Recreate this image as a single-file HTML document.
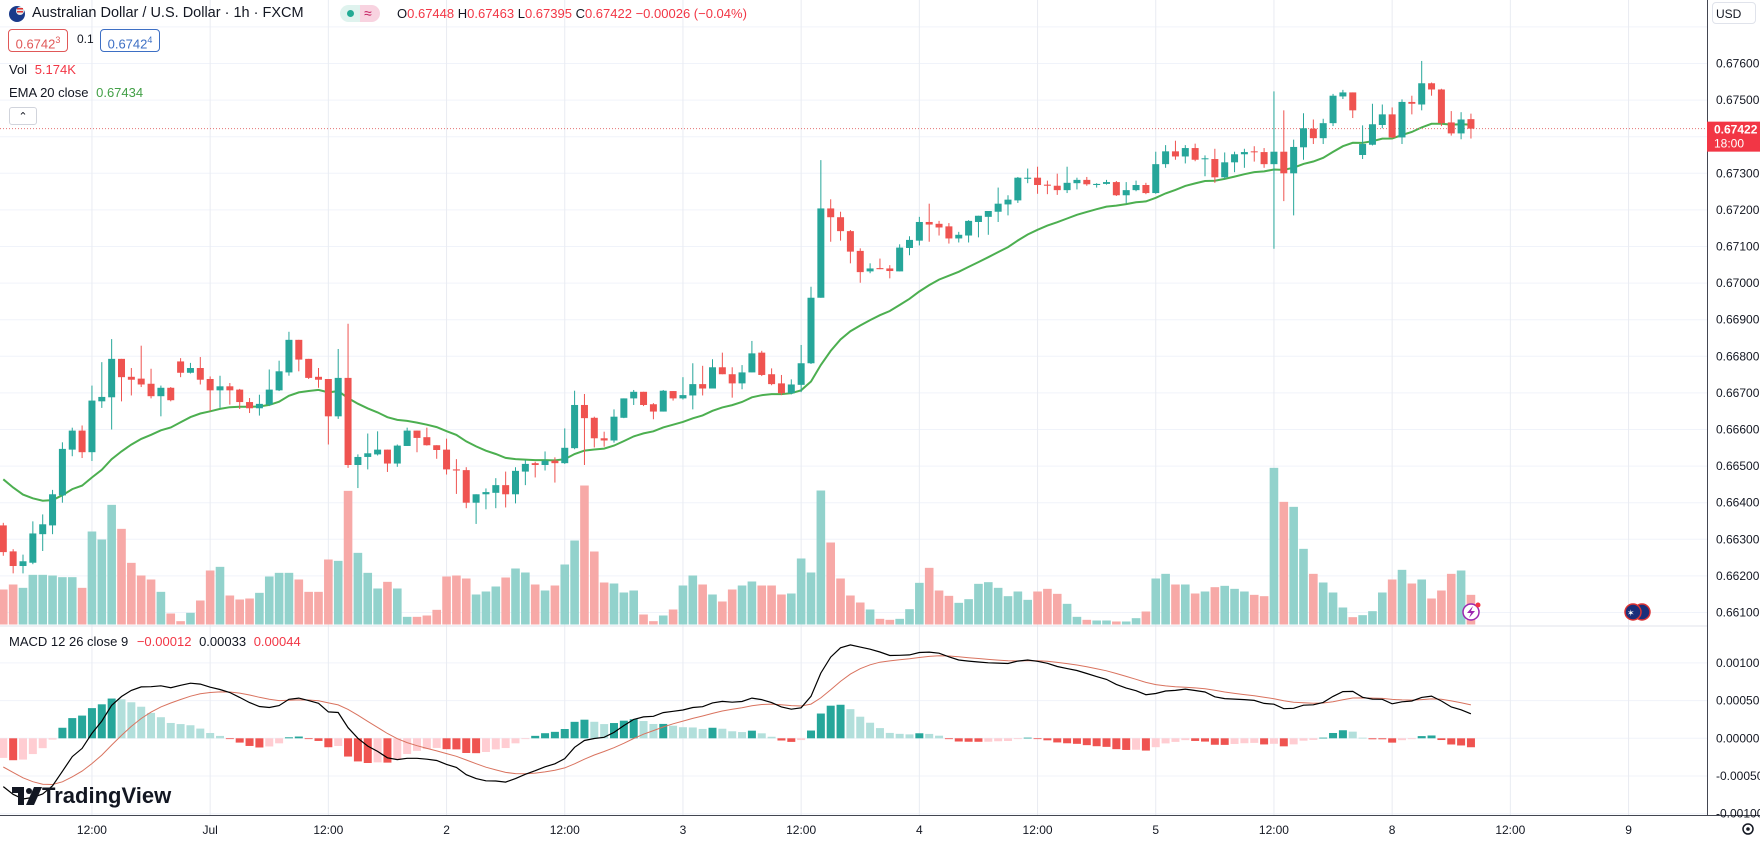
<!DOCTYPE html>
<html><head><meta charset="utf-8"><style>
html,body{margin:0;padding:0;background:#fff;}
#wrap{position:relative;width:1760px;height:843px;overflow:hidden;font-family:"Liberation Sans",sans-serif;color:#131722;}
svg{position:absolute;left:0;top:0;}
.lg{position:absolute;font-size:13px;white-space:nowrap;}
</style></head><body>
<div id="wrap">
<svg id="chart" width="1760" height="843"></svg>

<div class="lg" style="left:8px;top:5px;">
<svg width="18" height="18" style="position:static"><circle cx="9" cy="9" r="8" fill="#1a3a8a"/><circle cx="12" cy="6" r="4" fill="#e8e8e8"/><rect x="9" y="3" width="6" height="1.5" fill="#d33"/><rect x="9" y="6" width="6" height="1.5" fill="#d33"/></svg></div>
<div class="lg" style="left:32px;top:5px;font-size:14.5px;color:#131722;">Australian Dollar / U.S. Dollar · 1h · FXCM</div>
<div class="lg" style="left:340px;top:5px;width:40px;height:17px;border-radius:9px;overflow:hidden;">
<div style="position:absolute;left:0;top:0;width:20px;height:17px;background:#dff3ee"></div><div style="position:absolute;left:20px;top:0;width:20px;height:17px;background:#f8d3e0"></div>
<div style="position:absolute;left:7px;top:5px;width:7px;height:7px;border-radius:4px;background:#22ab94"></div>
<div style="position:absolute;left:24px;top:0px;color:#c2185b;font-size:14px;">≈</div></div>
<div class="lg" style="left:397px;top:6px;">O<span style="color:#f23645">0.67448</span> H<span style="color:#f23645">0.67463</span> L<span style="color:#f23645">0.67395</span> C<span style="color:#f23645">0.67422</span> <span style="color:#f23645">−0.00026 (−0.04%)</span></div>
<div class="lg" style="left:8px;top:29px;width:58px;height:21px;border:1px solid #e05858;border-radius:4px;color:#e05858;line-height:21px;text-align:center;">0.6742<sup style="font-size:9px">3</sup></div>
<div class="lg" style="left:77px;top:32px;font-size:12px;">0.1</div>
<div class="lg" style="left:100px;top:29px;width:58px;height:21px;border:1px solid #3d6fc4;border-radius:4px;color:#3d6fc4;line-height:21px;text-align:center;">0.6742<sup style="font-size:9px">4</sup></div>
<div class="lg" style="left:9px;top:62px;">Vol <span style="color:#f23645;margin-left:4px">5.174K</span></div>
<div class="lg" style="left:9px;top:85px;">EMA 20 close <span style="color:#43a047;margin-left:4px">0.67434</span></div>
<div class="lg" style="left:9px;top:107px;width:26px;height:16px;border:1px solid #d1d4dc;border-radius:3px;text-align:center;font-size:11px;line-height:18px;">⌃</div>
<div class="lg" style="left:9px;top:634px;">MACD 12 26 close 9 <span style="color:#f23645;margin-left:5px">−0.00012</span> <span style="margin-left:4px">0.00033</span> <span style="color:#f23645;margin-left:4px">0.00044</span></div>
<div class="lg" style="left:1712px;top:2px;width:44px;height:22px;border:1px solid #e0e3eb;border-radius:4px;font-size:12px;line-height:22px;padding-left:3px;box-sizing:border-box;">USD</div>
<div class="lg" style="left:12px;top:783px;font-size:22px;font-weight:bold;">
<svg width="30" height="18" style="position:static;vertical-align:-2px"><path d="M0 0H12V18H6V6H0Z" fill="#131722"/><circle cx="17" cy="4" r="3" fill="#131722"/><path d="M22 0H30L22 18H14Z" fill="#131722"/></svg>TradingView</div>
</div>
<script>
const openP=[.66338,.66267,.66227,.66236,.66314,.66338,.66420,.66545,.66597,.66538,.66677,.66688,.66793,.66744,.66739,.66725,.66691,.66714,.66786,.66755,.66768,.66738,.66707,.66718,.66709,.66675,.66658,.66668,.66707,.66756,.66845,.66793,.66744,.66738,.66636,.66741,.66503,.66525,.66532,.66545,.66507,.66555,.66597,.66579,.66557,.66545,.66491,.66489,.66400,.66423,.66427,.66448,.66423,.66485,.66508,.66503,.66515,.66508,.66549,.66667,.66632,.66576,.66570,.66632,.66685,.66703,.66669,.66649,.66705,.66685,.66693,.66724,.66712,.66770,.66751,.66726,.66756,.66810,.66751,.66726,.66699,.66722,.66781,.66960,.67204,.67180,.67142,.67088,.67032,.67041,.67040,.67032,.67096,.67116,.67167,.67162,.67155,.67122,.67130,.67167,.67181,.67195,.67215,.67226,.67285,.67288,.67269,.67266,.67254,.67273,.67282,.67268,.67271,.67276,.67240,.67254,.67268,.67246,.67325,.67360,.67346,.67369,.67339,.67339,.67289,.67330,.67352,.67360,.67358,.67325,.67359,.67300,.67371,.67422,.67396,.67437,.67510,.67521,.67350,.67378,.67432,.67461,.67398,.67495,.67488,.67546,.67529,.67439,.67409,.67448];
const highP=[.66345,.66273,.66258,.66349,.66368,.66435,.66565,.66605,.66611,.66720,.66784,.66847,.66793,.66768,.66829,.66766,.66720,.66716,.66795,.66782,.66798,.66745,.66747,.66727,.66711,.66686,.66695,.66764,.66788,.66867,.66845,.66793,.66768,.66738,.66820,.66889,.66532,.66589,.66595,.66545,.66559,.66605,.66597,.66605,.66557,.66575,.66519,.66497,.66423,.66439,.66467,.66485,.66497,.66517,.66512,.66540,.66524,.66603,.66706,.66697,.66635,.66594,.66655,.66685,.66708,.66703,.66672,.66708,.66705,.66743,.66781,.66774,.66792,.66810,.66770,.66776,.66842,.66815,.66767,.66749,.66737,.66831,.66990,.67336,.67229,.67195,.67145,.67095,.67054,.67067,.67049,.67106,.67128,.67181,.67217,.67170,.67164,.67140,.67172,.67184,.67197,.67261,.67240,.67290,.67313,.67318,.67280,.67299,.67318,.67288,.67290,.67273,.67282,.67279,.67276,.67280,.67274,.67359,.67377,.67389,.67377,.67381,.67349,.67367,.67357,.67359,.67367,.67374,.67369,.67524,.67472,.67392,.67464,.67447,.67449,.67517,.67528,.67521,.67431,.67490,.67488,.67480,.67502,.67512,.67607,.67548,.67531,.67470,.67467,.67463];
const lowP=[.66255,.66207,.66207,.66232,.66268,.66314,.66400,.66527,.66522,.66514,.66659,.66600,.66677,.66693,.66716,.66685,.66636,.66677,.66743,.66753,.66723,.66650,.66659,.66668,.66656,.66645,.66638,.66664,.66705,.66747,.66759,.66738,.66714,.66559,.66629,.66495,.66440,.66491,.66529,.66484,.66498,.66555,.66538,.66556,.66520,.66477,.66424,.66385,.66342,.66382,.66385,.66387,.66398,.66448,.66469,.66488,.66455,.66506,.66546,.66503,.66551,.66553,.66564,.66631,.66667,.66664,.66628,.66649,.66679,.66682,.66655,.66693,.66712,.66751,.66687,.66710,.66756,.66746,.66721,.66694,.66696,.66702,.66779,.66960,.67113,.67116,.67054,.67001,.67027,.67038,.67013,.67032,.67076,.67103,.67113,.67130,.67108,.67111,.67111,.67125,.67132,.67167,.67185,.67219,.67273,.67244,.67243,.67241,.67246,.67256,.67266,.67261,.67269,.67238,.67218,.67251,.67243,.67244,.67315,.67337,.67327,.67333,.67292,.67274,.67285,.67303,.67315,.67332,.67315,.67094,.67224,.67185,.67337,.67380,.67380,.67429,.67503,.67451,.67339,.67376,.67423,.67396,.67380,.67461,.67472,.67512,.67429,.67403,.67393,.67395];
const closeP=[.66265,.66227,.66240,.66316,.66341,.66423,.66547,.66597,.66538,.66679,.66689,.66793,.66743,.66736,.66723,.66691,.66714,.66680,.66755,.66768,.66736,.66707,.66718,.66707,.66675,.66658,.66670,.66709,.66759,.66845,.66791,.66741,.66736,.66636,.66741,.66503,.66525,.66535,.66545,.66507,.66556,.66597,.66577,.66557,.66544,.66491,.66488,.66400,.66423,.66429,.66448,.66423,.66487,.66506,.66503,.66515,.66508,.66550,.66667,.66631,.66576,.66570,.66635,.66685,.66703,.66667,.66649,.66706,.66685,.66694,.66724,.66712,.66770,.66751,.66726,.66756,.66808,.66749,.66724,.66699,.66723,.66781,.66960,.67204,.67180,.67142,.67086,.67030,.67040,.67038,.67033,.67097,.67118,.67167,.67160,.67152,.67122,.67132,.67170,.67184,.67197,.67217,.67228,.67288,.67288,.67268,.67266,.67254,.67274,.67282,.67270,.67271,.67276,.67240,.67254,.67268,.67246,.67325,.67360,.67346,.67369,.67337,.67341,.67289,.67330,.67352,.67358,.67358,.67325,.67359,.67300,.67372,.67423,.67396,.67437,.67512,.67521,.67472,.67380,.67434,.67461,.67398,.67495,.67490,.67546,.67529,.67437,.67409,.67447,.67422];
const volumes=[10.5,12.0,11.0,14.9,14.9,14.7,14.2,14.2,11.0,27.9,25.5,35.9,28.7,18.5,14.7,13.5,9.8,3.3,1.0,3.5,7.2,16.2,17.3,8.7,7.5,7.8,9.5,14.4,15.5,15.5,13.5,9.8,9.8,19.5,19.1,40.1,21.5,15.5,10.8,12.8,10.8,2.3,2.3,2.7,4.4,14.4,14.7,13.8,9.0,9.9,11.4,14.1,16.8,15.6,12.0,10.2,11.7,18.0,25.2,41.7,21.9,12.6,12.3,9.6,10.2,3.0,1.0,2.7,4.5,11.7,14.7,12.0,9.0,6.9,10.5,11.7,12.9,11.7,11.7,9.0,9.3,19.8,15.6,40.2,24.6,13.8,8.7,6.6,4.5,1.7,1.4,1.7,4.6,12.5,17.0,10.2,8.6,6.5,7.6,12.2,12.7,11.0,8.5,9.9,7.4,9.9,10.7,9.2,6.2,2.3,1.4,1.2,1.2,0.9,0.9,1.9,3.9,13.8,15.2,12.0,12.0,9.3,9.9,11.2,11.6,10.7,9.9,8.9,8.5,47.0,36.8,35.3,22.7,15.2,12.6,9.6,5.1,2.2,2.8,4.0,9.6,13.5,16.4,12.3,13.5,7.8,10.2,15.2,16.2,8.9];
const priceTicks=[0.677,0.676,0.675,0.674,0.673,0.672,0.671,0.670,0.669,0.668,0.667,0.666,0.665,0.664,0.663,0.662,0.661];
const priceTickLabels=["","0.67600","0.67500","","0.67300","0.67200","0.67100","0.67000","0.66900","0.66800","0.66700","0.66600","0.66500","0.66400","0.66300","0.66200","0.66100"];
const macdTicks=[0.001,0.0005,0,-0.0005,-0.001];
const macdTickLabels=["0.00100","0.00050","0.00000","-0.00050","-0.00100"];
const timeTickIndex=[9,21,33,45,57,69,81,93,105,117,129,141,153,165];
const timeTickLabels=["12:00","Jul","12:00","2","12:00","3","12:00","4","12:00","5","12:00","8","12:00","9"];
const emaSeed=[0.66464];
const macdSeed=[0.66416,0.66480,-0.00038];
const lastPrice=[0.67422];

const NS="http://www.w3.org/2000/svg";
const svg=document.getElementById('chart');
const X=i=>3.3+9.85*i;
const PY=p=>63.5+(0.676-p)*36600;
const VY=v=>624.5-v*3.333;
const MY=m=>738.3-m*75400;
function mk(tag,attrs,parent){const e=document.createElementNS(NS,tag);for(const k in attrs)e.setAttribute(k,attrs[k]);(parent||svg).appendChild(e);return e;}

const grid=mk('g',{});


priceTicks.forEach(p=>{mk('line',{x1:0,x2:1707,y1:PY(p),y2:PY(p),stroke:'#f0f3fa','stroke-width':1},grid);});
macdTicks.forEach(m=>{mk('line',{x1:0,x2:1707,y1:MY(m),y2:MY(m),stroke:'#f0f3fa','stroke-width':1},grid);});
timeTickIndex.forEach(i=>{mk('line',{x1:X(i),x2:X(i),y1:0,y2:815,stroke:'#e9ecf2','stroke-width':1},grid);});
mk('line',{x1:0,x2:1707,y1:626,y2:626,stroke:'#e0e3eb','stroke-width':1});

// volume
const vg=mk('g',{});


volumes.forEach((v,i)=>{const up=closeP[i]>=openP[i];const r=mk('rect',{x:X(i)-4.3,y:VY(v),width:8.6,height:624.5-VY(v),fill:up?'#92d2cc':'#f7a9a7'},vg);

});

// EMA
let ema=[],e=emaSeed[0];const ka=2/21;
closeP.forEach((c,i)=>{e=i===0?e:e+ka*(c-e);ema.push(e);});
const emaPath=mk('path',{d:ema.map((v,i)=>(i?'L':'M')+X(i).toFixed(1)+' '+PY(v).toFixed(1)).join(''),fill:'none',stroke:'#4caf50','stroke-width':2});



// last price line
mk('line',{x1:0,x2:1707,y1:PY(lastPrice[0]),y2:PY(lastPrice[0]),stroke:'#e57373','stroke-width':1,'stroke-dasharray':'1 2'});

// candles
const cg=mk('g',{});


closeP.forEach((c,i)=>{const o=openP[i],up=c>=o,col=up?'#26a69a':'#ef5350';
const w=mk('line',{x1:X(i),x2:X(i),y1:PY(highP[i]),y2:PY(lowP[i]),stroke:col,'stroke-width':1},cg);


const t=PY(Math.max(o,c)),b=PY(Math.min(o,c));
const r=mk('rect',{x:X(i)-3.5,y:t,width:7,height:Math.max(1,b-t),fill:col},cg);

});

// MACD
let e12=macdSeed[0],e26=macdSeed[1],sig=macdSeed[2];const macd=[],sg=[],hist=[];
closeP.forEach((c,i)=>{if(i>0){e12+=2/13*(c-e12);e26+=2/27*(c-e26);}const m=e12-e26;if(i>0)sig+=0.2*(m-sig);macd.push(m);sg.push(sig);hist.push(m-sig);});
const hg=mk('g',{});


hist.forEach((h,i)=>{const prev=i?hist[i-1]:h;let col;if(h>=0)col=h>prev?'#26a69a':'#b2dfdb';else col=h<prev?'#ef5350':'#ffcdd2';
const y1=MY(Math.max(h,0)),y2=MY(Math.min(h,0));const r=mk('rect',{x:X(i)-4,y:y1,width:8,height:Math.max(0.8,y2-y1),fill:col},hg);

});
const sp=mk('path',{d:sg.map((v,i)=>(i?'L':'M')+X(i).toFixed(1)+' '+MY(v).toFixed(1)).join(''),fill:'none',stroke:'#d9735f','stroke-width':1});


const mp=mk('path',{d:macd.map((v,i)=>(i?'L':'M')+X(i).toFixed(1)+' '+MY(v).toFixed(1)).join(''),fill:'none',stroke:'#000','stroke-width':1.2});



// axes
mk('rect',{x:1707,y:0,width:53,height:843,fill:'#fff'});
mk('rect',{x:0,y:815,width:1760,height:28,fill:'#fff'});
mk('line',{x1:1707.5,x2:1707.5,y1:0,y2:815,stroke:'#434651','stroke-width':1});
mk('line',{x1:0,x2:1760,y1:815.5,y2:815.5,stroke:'#434651','stroke-width':1});
priceTicks.forEach((p,k)=>{if(!priceTickLabels[k])return;const t=mk('text',{x:1716,y:PY(p)+4,'font-size':12,fill:'#131722','font-family':'Liberation Sans, sans-serif'});t.textContent=priceTickLabels[k];

});
macdTicks.forEach((m,k)=>{const t=mk('text',{x:1716,y:MY(m)+4,'font-size':12,fill:'#131722','font-family':'Liberation Sans, sans-serif'});t.textContent=macdTickLabels[k];

});
timeTickIndex.forEach((i,k)=>{const t=mk('text',{x:X(i),y:834,'font-size':12,fill:'#131722','text-anchor':'middle','font-family':'Liberation Sans, sans-serif'});t.textContent=timeTickLabels[k];

});
const tagY=PY(lastPrice[0]);
const tag=mk('rect',{x:1707,y:tagY-7,width:53,height:30,fill:'#f23645'});


const t1=mk('text',{x:1714,y:tagY+5,'font-size':12,'font-weight':'bold',fill:'#fff','font-family':'Liberation Sans, sans-serif'});t1.textContent=lastPrice[0].toFixed(5);
const t2=mk('text',{x:1714,y:tagY+19,'font-size':12,fill:'#fff','font-family':'Liberation Sans, sans-serif'});t2.textContent='18:00';
// icons
const fl=mk('g',{});


mk('circle',{cx:1642,cy:612,r:8,fill:'#1a2f7a',stroke:'#d33','stroke-width':1.5},fl);
mk('circle',{cx:1633,cy:612,r:8,fill:'#1a2f7a',stroke:'#d33','stroke-width':1.5},fl);
mk('text',{x:1627,y:616,'font-size':9,fill:'#fff'},fl).textContent='✶';
const lt=mk('g',{});


mk('circle',{cx:1471,cy:612,r:8,fill:'#fff',stroke:'#9c27b0','stroke-width':1.5},lt);
mk('path',{d:'M1473 606L1467 613H1471L1469 618L1475 611H1471Z',fill:'#9c27b0'},lt);
mk('circle',{cx:1478,cy:605,r:2.5,fill:'#f23645'},lt);
const gear=mk('g',{});


mk('circle',{cx:1748,cy:829,r:5,fill:'none',stroke:'#131722','stroke-width':1.5},gear);
mk('circle',{cx:1748,cy:829,r:1.8,fill:'#131722'},gear);
</script>
</body></html>
